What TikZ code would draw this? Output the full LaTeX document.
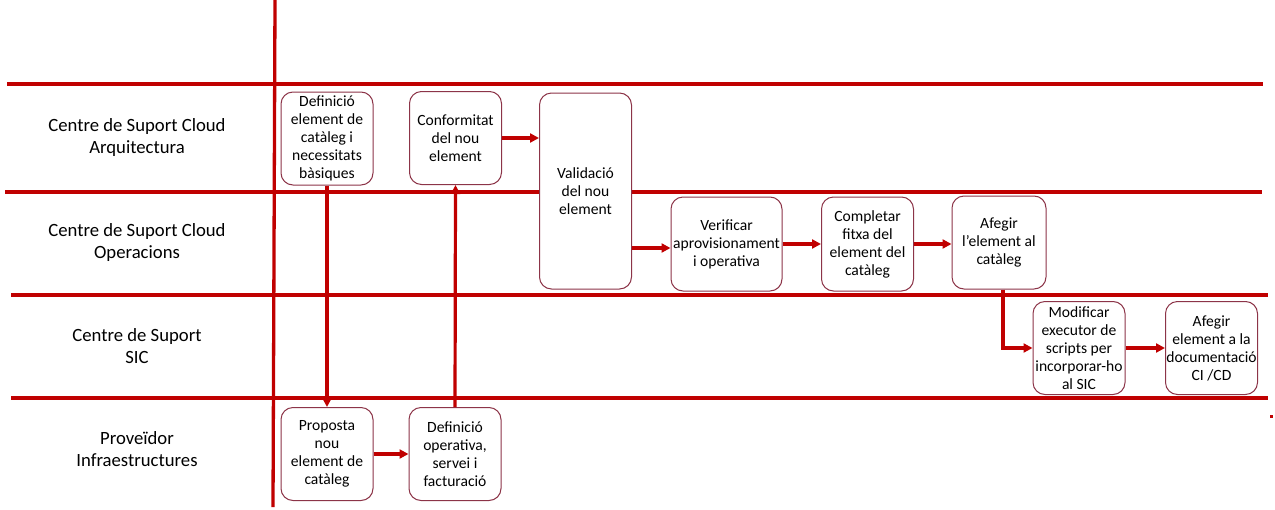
\documentclass[tikz,border=0pt]{standalone}
\usepackage{fontspec}
\setmainfont{Carlito}
\usetikzlibrary{arrows.meta,calc}
\definecolor{lanered}{RGB}{192,0,0}
\definecolor{boxline}{RGB}{140,52,72}
\newcommand{\boxfont}{\fontsize{15.6}{18}\selectfont}
\newcommand{\lanefont}{\fontsize{18.7}{22}\selectfont}
\tikzset{
  lane/.style={draw=lanered, line width=3.3pt},
  stepbox/.style={draw=boxline, rounded corners=12pt, line width=1pt, fill=white,
    align=center, font=\boxfont, inner sep=0pt, minimum width=92pt, minimum height=93pt},
  lanelabel/.style={align=center, font=\lanefont, inner sep=0pt},
  flow/.style={draw=lanered, line width=3.2pt, -{Triangle[length=9pt,width=9pt]}},
}
\begin{document}
\begin{tikzpicture}[x=1pt,y=-1pt]
\useasboundingbox (0,0) rectangle (1275,509);
% lanes
\coordinate (l1a) at (7,84);    \coordinate (l1b) at (1263,84);
\coordinate (l2a) at (5,192);   \coordinate (l2b) at (1262,192);
\coordinate (l3a) at (11,295);  \coordinate (l3b) at (1268,295);
\coordinate (l4a) at (11,398);  \coordinate (l4b) at (1268,398);
\coordinate (va) at (275,0);    \coordinate (vb) at (273,507);
\draw[lane] (l1a) -- (l1b);
\draw[lane] (l2a) -- (l2b);
\draw[lane] (l3a) -- (l3b);
\draw[lane] (l4a) -- (l4b);
\draw[lane] (va) -- (vb);
\fill[lanered] (1269.5,414.5) rectangle (1272.5,417.5);
% lane labels
\node[lanelabel] (lab1) at (137,138) {Centre de Suport Cloud\\Arquitectura};
\node[lanelabel] (lab2) at (137,243) {Centre de Suport Cloud\\Operacions};
\node[lanelabel] (lab3) at (137,346) {Centre de Suport\\SIC};
\node[lanelabel] (lab4) at (137,449) {Proveïdor\\Infraestructures};
% boxes
\node[stepbox] (n1) at (327,138.5) {Definició\\element de\\catàleg i\\necessitats\\bàsiques};
\node[stepbox] (n2) at (455.5,138) {Conformitat\\del nou\\element};
\node[stepbox, minimum height=196pt] (n3) at (585.5,191) {Validació\\del nou\\element};
\node[stepbox, minimum width=111pt, minimum height=94pt] (n4) at (726.5,244) {Verificar\\aprovisionament\\i operativa};
\node[stepbox, minimum height=94pt] (n5) at (867.5,244) {Completar\\fitxa del\\element del\\catàleg};
\node[stepbox, minimum width=94pt] (n6) at (999,242.5) {Afegir\\l’element al\\catàleg};
\node[stepbox] (n7) at (1079,348) {Modificar\\executor de\\scripts per\\incorporar-ho\\al SIC};
\node[stepbox] (n8) at (1211.5,348) {Afegir\\element a la\\documentació\\CI /CD};
\node[stepbox] (n9) at (327,454) {Proposta\\nou\\element de\\catàleg};
\node[stepbox] (n10) at (455,454) {Definició\\operativa,\\servei i\\facturació};
% flows
\draw[flow] (n1.south) -- (n9.north);
\draw[flow] (n10.north) -- (n2.south);
\draw[flow] (n2.east) -- (n3.west |- n2.east);
\draw[flow] ([yshift=-4pt]n4.west -| n3.east) -- ([yshift=-4pt]n4.west);
\draw[flow] (n4.east) -- (n5.west);
\draw[flow] (n5.east) -- (n6.west |- n5.east);
\draw[flow] ([xshift=4pt]n6.south) |- (n7.west);
\draw[flow] (n7.east) -- (n8.west);
\draw[flow] (n9.east) -- (n10.west);
\end{tikzpicture}
\end{document}
